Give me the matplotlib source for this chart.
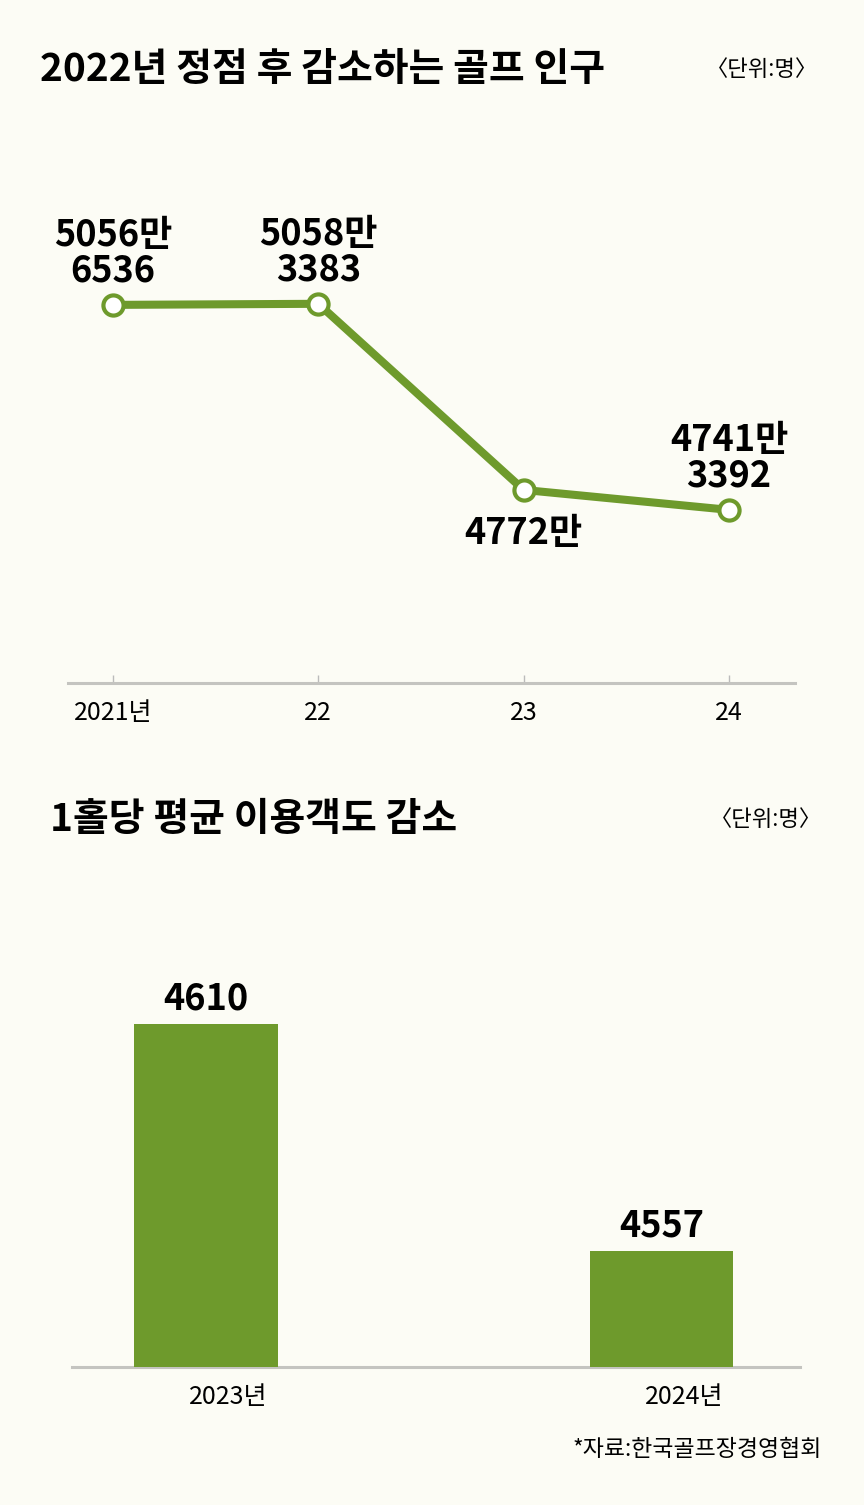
import matplotlib.pyplot as plt

# 골프 인구 (명)
years = ['2021년', '22', '23', '24']
golf_pop = [50566536, 50583383, 47720000, 47413392]
# 1홀당 평균 이용객 (명)
bar_years = ['2023년', '2024년']
per_hole = [4610, 4557]

title1 = '2022년 정점 후 감소하는 골프 인구'
title2 = '1홀당 평균 이용객도 감소'
unit = '〈단위:명〉'
source = '*자료:한국골프장경영협회'

green = '#6e9a2c'
bg = '#fcfcf5'
plt.rcParams['font.family'] = ['Noto Sans CJK KR', 'DejaVu Sans']

W, H = 864, 1505
fig = plt.figure(figsize=(W / 100, H / 100), dpi=100, facecolor=bg)


def box(l, t, r, b):
    # 픽셀 좌표 -> figure 좌표
    return [l / W, 1 - b / H, (r - l) / W, (b - t) / H]


# ---- 위쪽: 선 그래프 ----
ax1 = fig.add_axes(box(68, 200, 795, 683))
ax1.set_facecolor(bg)
xs = list(range(len(years)))
ax1.plot(xs, golf_pop, color=green, lw=5.8, marker='o', ms=14.5,
         mfc='white', mec=green, mew=3.0, solid_capstyle='round', zorder=3)
ax1.set_xlim(-0.219, 3.321)
ax1.set_ylim(44.75e6, 52.18e6)
for i, v in enumerate(golf_pop):
    man, rest = divmod(v, 10000)
    txt = f'{man}만' if rest == 0 else f'{man}만\n{rest}'
    if rest == 0:
        ax1.annotate(txt, (i, v), xytext=(0, -18), textcoords='offset points',
                     ha='center', va='top', fontsize=26, fontweight='bold',
                     linespacing=0.95)
    else:
        ax1.annotate(txt, (i, v), xytext=(0, 11), textcoords='offset points',
                     ha='center', va='bottom', fontsize=26, fontweight='bold',
                     linespacing=0.95)
ax1.set_xticks(xs)
ax1.set_xticklabels(years, fontsize=18)
ax1.set_yticks([])
for s in ['top', 'right', 'left']:
    ax1.spines[s].set_visible(False)
ax1.spines['bottom'].set_color('#c4c4c0')
ax1.spines['bottom'].set_linewidth(2.2)
ax1.tick_params(axis='x', direction='in', length=6, width=1, color='#bbbbbb',
                pad=12)

fig.text(40 / W, 1 - 70 / H, title1, fontsize=28, fontweight='black',
         va='center', ha='left')
fig.text(818 / W, 1 - 70 / H, unit, fontsize=16, va='center', ha='right')

# ---- 아래쪽: 막대 그래프 ----
ax2 = fig.add_axes(box(72, 900, 800, 1367))
ax2.set_facecolor(bg)
bx = list(range(len(bar_years)))
bars = ax2.bar(bx, per_hole, width=0.314, color=green, zorder=3)
ax2.set_xlim(-0.294, 1.303)
ax2.set_ylim(4530, 4639)
for rect, v in zip(bars, per_hole):
    ax2.annotate(f'{v}', (rect.get_x() + rect.get_width() / 2, v),
                 xytext=(0, 5), textcoords='offset points', ha='center',
                 va='bottom', fontsize=26, fontweight='bold')
# 연도 라벨은 막대 중심보다 약간 오른쪽
ax2.set_xticks([b + 0.048 for b in bx])
ax2.set_xticklabels(bar_years, fontsize=18)
ax2.set_yticks([])
for s in ['top', 'right', 'left']:
    ax2.spines[s].set_visible(False)
ax2.spines['bottom'].set_color('#c4c4c0')
ax2.spines['bottom'].set_linewidth(2.2)
ax2.tick_params(axis='x', length=0, pad=12)

fig.text(50 / W, 1 - 820 / H, title2, fontsize=28, fontweight='black',
         va='center', ha='left')
fig.text(822 / W, 1 - 820 / H, unit, fontsize=16, va='center', ha='right')
fig.text(822 / W, 1 - 1450 / H, source, fontsize=16.5, va='center', ha='right')

fig.savefig('out.png', dpi=100, facecolor=bg)
